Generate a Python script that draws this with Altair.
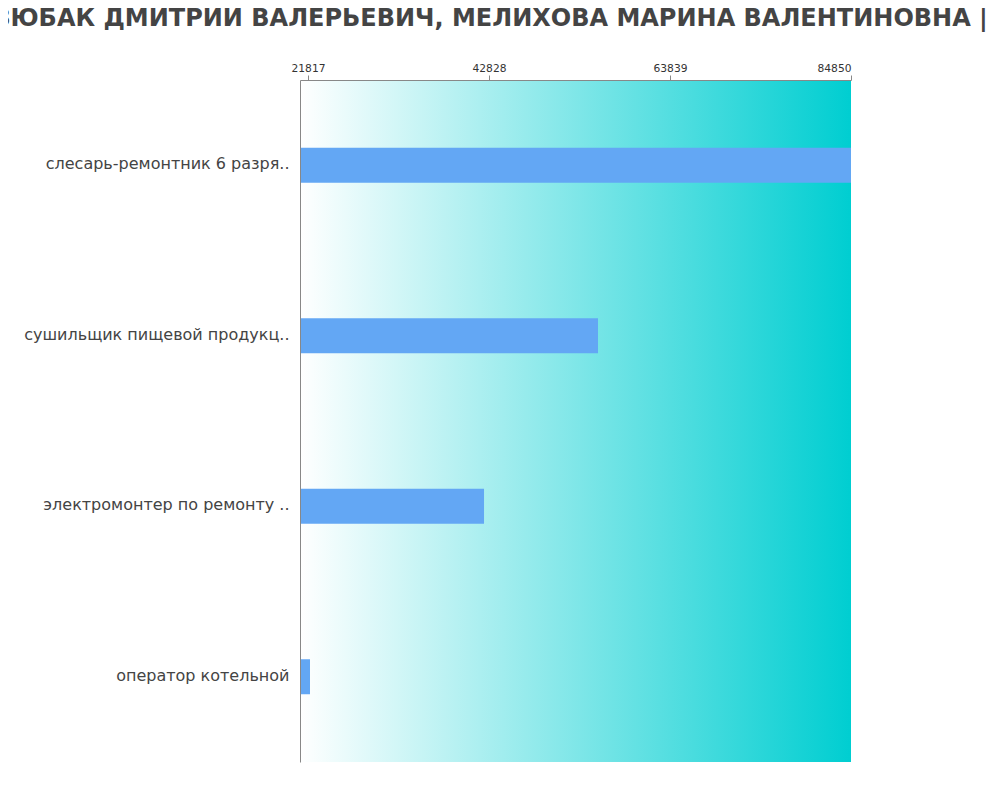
import altair as alt
import pandas as pd

categories = [
    "слесарь-ремонтник 6 разря..",
    "сушильщик пищевой продукц..",
    "электромонтер по ремонту ..",
    "оператор котельной",
]
salaries = [84850, 55480, 42250, 22050]
tick_values = [21817, 42828, 63839, 84850]
domain_min = 20888
domain_max = 84850
title_text = "ДЗЮБАК ДМИТРИЙ ВАЛЕРЬЕВИЧ, МЕЛИХОВА МАРИНА ВАЛЕНТИНОВНА | ПРОФЕССИИ"

df = pd.DataFrame({"cat": categories, "val": salaries})

grad = alt.LinearGradient(gradient="linear", x1=0, x2=1, y1=0, y2=0,
                          stops=[alt.GradientStop(offset=0, color="#FFFFFF"),
                                 alt.GradientStop(offset=1, color="#00CED1")])

bg = alt.Chart(pd.DataFrame({"d": [0]})).mark_rect(color=grad).encode(
    x=alt.value(0), x2=alt.value("width"), y=alt.value(0), y2=alt.value("height")
)

bars = alt.Chart(df).mark_bar(color="#63A7F4", size=35).encode(
    x=alt.X("val:Q",
            scale=alt.Scale(domain=[domain_min, domain_max], nice=False, zero=False),
            axis=alt.Axis(orient="top", values=tick_values, title=None, grid=False,
                          format="d", zindex=1,
                          labelFontSize=10.7, labelColor="#333333", tickColor="#888888",
                          domainColor="#888888", tickSize=5, labelFont="DejaVu Sans",
                          labelPadding=2)),
    x2=alt.datum(domain_min),
    y=alt.Y("cat:N", sort=categories,
            axis=alt.Axis(title=None, ticks=False, labelFontSize=16, labelColor="#444444",
                          domainColor="#888888", labelPadding=11, labelLimit=400,
                          zindex=1, labelFont="DejaVu Sans", labelOffset=-1)),
)

chart = alt.layer(bg, bars).properties(
    width=551,
    height=682,
    title=alt.TitleParams(text=title_text, anchor="start", frame="group", dx=-328,
                          fontSize=24, font="DejaVu Sans", fontWeight="bold",
                          color="#444444", offset=31),
    autosize=alt.AutoSizeParams(type="none"),
    padding={"left": 292, "top": 72, "right": 141, "bottom": 20},
).configure_view(stroke=None)

chart.save("out.html", embed_options={"renderer": "svg", "actions": False})
